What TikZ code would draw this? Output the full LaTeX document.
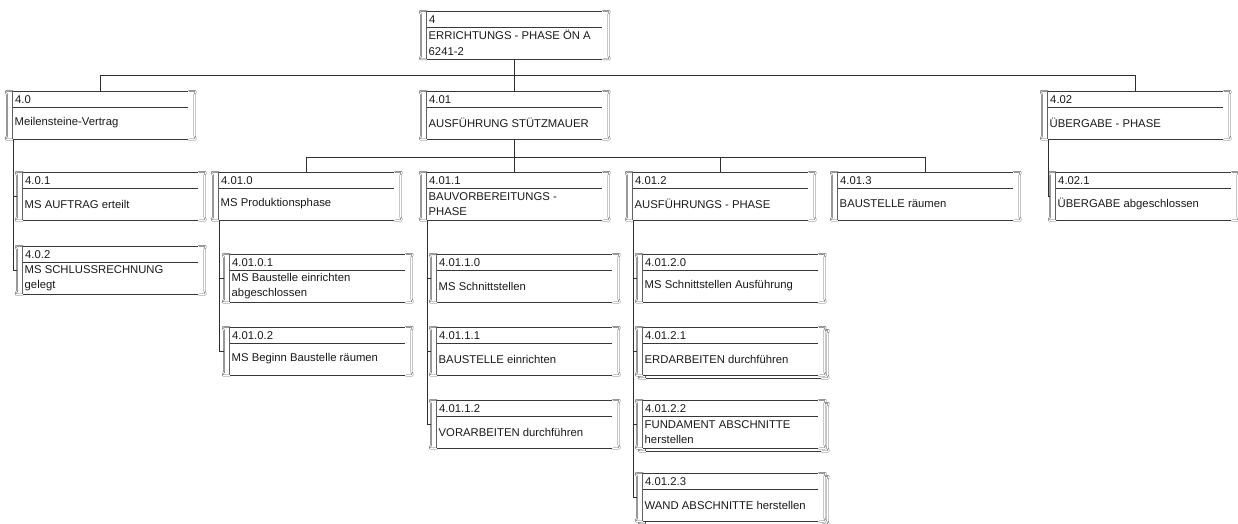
\documentclass[tikz,border=0pt]{standalone}
\usepackage{fontspec}
\setmainfont{Liberation Sans}
\usetikzlibrary{calc}

\tikzset{
  wbsframe/.style={draw=none, minimum width=175pt, minimum height=48pt, inner sep=0pt, anchor=north west},
  edgeline/.style={draw=black!78, line width=0.9pt},
  divline/.style={draw=black!78, line width=0.7pt},
  sideline/.style={draw=black!62, line width=0.5pt, double=white, double distance=0.7pt},
  bracketline/.style={draw=black!62, line width=0.5pt, double=white, double distance=0.7pt, line join=round},
  conn/.style={draw=black!82, line width=0.8pt},
  numtext/.style={anchor=west, inner sep=0pt, text=black!90, font=\fontsize{11.3}{13}\selectfont},
  bodytext/.style={anchor=west, inner sep=0pt, align=left, text=black!90, font=\fontsize{11.3}{15.5}\selectfont},
}

% frame of one work package: inner box, header divider and the two side brackets
\newcommand\wbsoutline[1]{%
  \draw[bracketline] (#1.north west) -- ($(#1.north west)+(-7,0)$) -- ($(#1.north west)+(-7,1.5)$)
    -- ($(#1.north west)+(-6,3.5)$) -- ($(#1.south west)+(-6,-3.5)$) -- ($(#1.south west)+(-7,-1.5)$)
    -- ($(#1.south west)+(-7,0)$) -- (#1.south west);
  \draw[bracketline] (#1.north east) -- ($(#1.north east)+(7,0)$) -- ($(#1.north east)+(7,1.5)$)
    -- ($(#1.north east)+(6,3.5)$) -- ($(#1.south east)+(6,-3.5)$) -- ($(#1.south east)+(7,-1.5)$)
    -- ($(#1.south east)+(7,0)$) -- (#1.south east);
  \draw[sideline] (#1.north west) -- (#1.south west);
  \draw[sideline] (#1.north east) -- (#1.south east);
  \draw[edgeline] (#1.north west) -- (#1.north east);
  \draw[edgeline] (#1.south west) -- (#1.south east);
  \draw[divline] ($(#1.north west)+(0,16)$) -- ($(#1.north east)+(0,16)$);
}

% work package: name, left x, top y, number, title
\newcommand\wbsbox[5]{%
  \node[wbsframe] (#1) at (#2+6,#3) {};
  \wbsoutline{#1}
  \coordinate (#1-in) at ($(#1.west)+(-6,0)$);
  \node[numtext] (#1-num) at ($(#1.north west)+(2,8.5)$) {#4};
  \node[bodytext] (#1-txt) at ($(#1.north west)+(1.5,32)$) {#5};
}

% work package with stacked sub-levels behind it
\newcommand\wbsstackbox[5]{%
  \node[wbsframe] (#1-sh) at (#2+9,#3+3) {};
  \wbsoutline{#1-sh}
  \fill[white] (#2-1,#3) rectangle (#2+188,#3+48);
  \wbsbox{#1}{#2}{#3}{#4}{#5}
}

\begin{document}
\begin{tikzpicture}[x=1pt, y=-1pt]
\useasboundingbox (0,0) rectangle (1238,524);

% level 0
\wbsbox{w4}{421}{11}{4}{ERRICHTUNGS - PHASE ÖN A\\6241-2}

% level 1
\wbsbox{w4-0}{7}{91}{4.0}{Meilensteine-Vertrag}
\wbsbox{w4-01}{421}{91}{4.01}{AUSFÜHRUNG STÜTZMAUER}
\wbsbox{w4-02}{1042}{91}{4.02}{ÜBERGABE - PHASE}

% level 2
\wbsbox{w4-0-1}{17}{172}{4.0.1}{MS AUFTRAG erteilt}
\wbsbox{w4-0-2}{17}{246}{4.0.2}{MS SCHLUSSRECHNUNG\\gelegt}
\wbsbox{w4-01-0}{213}{172}{4.01.0}{MS Produktionsphase}
\wbsbox{w4-01-1}{421}{172}{4.01.1}{BAUVORBEREITUNGS -\\PHASE}
\wbsbox{w4-01-2}{627}{172}{4.01.2}{AUSFÜHRUNGS - PHASE}
\wbsbox{w4-01-3}{832}{172}{4.01.3}{BAUSTELLE räumen}
\wbsbox{w4-02-1}{1050}{172}{4.02.1}{ÜBERGABE abgeschlossen}

% level 3
\wbsbox{w4-01-0-1}{224}{254}{4.01.0.1}{MS Baustelle einrichten\\abgeschlossen}
\wbsbox{w4-01-0-2}{224}{327}{4.01.0.2}{MS Beginn Baustelle räumen}
\wbsbox{w4-01-1-0}{431}{254}{4.01.1.0}{MS Schnittstellen}
\wbsbox{w4-01-1-1}{431}{327}{4.01.1.1}{BAUSTELLE einrichten}
\wbsbox{w4-01-1-2}{431}{400}{4.01.1.2}{VORARBEITEN durchführen}
\wbsbox{w4-01-2-0}{637}{254}{4.01.2.0}{MS Schnittstellen Ausführung}
\wbsstackbox{w4-01-2-1}{637}{327}{4.01.2.1}{ERDARBEITEN durchführen}
\wbsstackbox{w4-01-2-2}{637}{400}{4.01.2.2}{FUNDAMENT ABSCHNITTE\\herstellen}
\wbsstackbox{w4-01-2-3}{637}{473}{4.01.2.3}{WAND ABSCHNITTE herstellen}

% tree lines between levels 0, 1 and 2
\draw[conn] (w4.south) -- (w4-01.north);
\draw[conn] (w4-0.north) -- ++(0,-16) -| (w4-02.north);
\draw[conn] (w4-01.south) -- (w4-01-1.north);
\draw[conn] (w4-01-0.north) -- ++(0,-15) -| (w4-01-3.north);
\draw[conn] (w4-01-2.north) -- ++(0,-15);

% indented child lists
\draw[conn] (w4-0.south west) |- (w4-0-2-in);
\draw[conn] (w4-0-1-in) -- (w4-0.south west |- w4-0-1-in);

\draw[conn] (w4-02.south west) |- (w4-02-1-in);

\draw[conn] (w4-01-0.south west) |- (w4-01-0-2-in);
\draw[conn] (w4-01-0-1-in) -- (w4-01-0.south west |- w4-01-0-1-in);

\draw[conn] (w4-01-1.south west) |- (w4-01-1-2-in);
\draw[conn] (w4-01-1-0-in) -- (w4-01-1.south west |- w4-01-1-0-in);
\draw[conn] (w4-01-1-1-in) -- (w4-01-1.south west |- w4-01-1-1-in);

\draw[conn] (w4-01-2.south west) |- (w4-01-2-3-in);
\draw[conn] (w4-01-2-0-in) -- (w4-01-2.south west |- w4-01-2-0-in);
\draw[conn] (w4-01-2-1-in) -- (w4-01-2.south west |- w4-01-2-1-in);
\draw[conn] (w4-01-2-2-in) -- (w4-01-2.south west |- w4-01-2-2-in);
\end{tikzpicture}
\end{document}
